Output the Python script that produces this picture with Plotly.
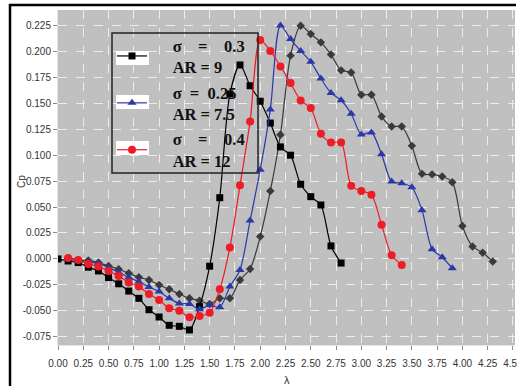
import plotly.graph_objects as go

# ---- data ----
lam_a = [0.0, 0.1, 0.2, 0.3, 0.4, 0.5, 0.6, 0.7, 0.8, 0.9, 1.0, 1.1, 1.2, 1.3, 1.4,
         1.5, 1.6, 1.7, 1.8, 1.9, 2.0, 2.1, 2.2, 2.3, 2.4, 2.5, 2.6, 2.7, 2.8]
cp_a = [0.000, -0.002, -0.0035, -0.008, -0.0116, -0.018, -0.024, -0.031, -0.038, -0.049,
        -0.056, -0.064, -0.065, -0.0685, -0.046, -0.007, 0.059, 0.159, 0.187, 0.167,
        0.152, 0.131, 0.108, 0.100, 0.072, 0.060, 0.052, 0.0125, -0.004]

lam_b = [0.1, 0.2, 0.3, 0.4, 0.5, 0.6, 0.7, 0.8, 0.9, 1.0, 1.1, 1.2, 1.3, 1.4, 1.5,
         1.6, 1.7, 1.8, 1.9, 2.0, 2.1, 2.2, 2.3, 2.4, 2.5, 2.6, 2.7, 2.8, 2.9, 3.0,
         3.1, 3.2, 3.3, 3.4, 3.5, 3.6, 3.7, 3.8, 3.9]
cp_b = [0.000, -0.002, -0.0035, -0.004, -0.0084, -0.013, -0.018, -0.022, -0.027, -0.0315,
        -0.038, -0.043, -0.0434, -0.0486, -0.0444, -0.0467, -0.0267, -0.0106, 0.037, 0.086,
        0.144, 0.225, 0.212, 0.2005, 0.190, 0.174, 0.160, 0.153, 0.140, 0.120,
        0.122, 0.101, 0.0746, 0.073, 0.069, 0.047, 0.0094, 0.0016, -0.009]

lam_c = [0.1, 0.2, 0.3, 0.4, 0.5, 0.6, 0.7, 0.8, 0.9, 1.0, 1.1, 1.2, 1.3, 1.4, 1.5,
         1.6, 1.7, 1.8, 1.9, 2.0, 2.1, 2.2, 2.3, 2.4, 2.5, 2.6, 2.7, 2.8, 2.9, 3.0,
         3.1, 3.2, 3.3, 3.4]
cp_c = [0.001, -0.001, -0.005, -0.0074, -0.0116, -0.0164, -0.0228, -0.0267, -0.0338, -0.0396,
        -0.0476, -0.0499, -0.0563, -0.055, -0.0518, -0.0293, 0.011, 0.071, 0.1326, 0.211,
        0.2005, 0.1856, 0.1696, 0.1528, 0.1454, 0.1207, 0.1123, 0.1123, 0.0705, 0.0656,
        0.0618, 0.033, 0.0035, -0.0058]

lam_d = [0.1, 0.2, 0.3, 0.4, 0.5, 0.6, 0.7, 0.8, 0.9, 1.0, 1.1, 1.2, 1.3, 1.4, 1.5,
         1.6, 1.7, 1.8, 1.9, 2.0, 2.1, 2.2, 2.3, 2.4, 2.5, 2.6, 2.7, 2.8, 2.9, 3.0,
         3.1, 3.2, 3.3, 3.4, 3.5, 3.6, 3.7, 3.8, 3.9, 4.0, 4.1, 4.2, 4.3]
cp_d = [0.001, -0.001, -0.0016, -0.0035, -0.0068, -0.010, -0.0138, -0.0177, -0.0203, -0.0251,
        -0.0293, -0.0338, -0.038, -0.0402, -0.0434, -0.038, -0.038, -0.0203, -0.0097, 0.0215,
        0.0655, 0.1197, 0.196, 0.2249, 0.2168, 0.2088, 0.197, 0.1818, 0.1798, 0.1583,
        0.1583, 0.1374, 0.1277, 0.1277, 0.109, 0.082, 0.0815, 0.0795, 0.074, 0.0318,
        0.012, 0.006, -0.0024]

NB = "\u00a0"
PAD = NB * 5
names = [PAD + "σ" + NB * 4 + "=" + NB * 4 + "0.3<br>" + PAD + "AR = 9",
         PAD + "σ" + NB * 2 + "=" + NB * 2 + "0.25<br>" + PAD + "AR = 7.5",
         PAD + "σ" + NB * 4 + "=" + NB * 4 + "0.4<br>" + PAD + "AR = 12"]

x_ticks = [0.0, 0.25, 0.5, 0.75, 1.0, 1.25, 1.5, 1.75, 2.0, 2.25, 2.5, 2.75, 3.0,
           3.25, 3.5, 3.75, 4.0, 4.25, 4.5]
x_ticktext = ["0.00", "0.25", "0.50", "0.75", "1.00", "1.25", "1.50", "1.75", "2.00",
              "2.25", "2.50", "2.75", "3.00", "3.25", "3.50", "3.75", "4.00", "4.25", "4.50"]
y_ticks = [-0.075, -0.05, -0.025, 0.0, 0.025, 0.05, 0.075, 0.1, 0.125, 0.15, 0.175, 0.2, 0.225]
y_ticktext = ["-0.075", "-0.050", "-0.025", "0.000", "0.025", "0.050", "0.075", "0.100",
              "0.125", "0.150", "0.175", "0.200", "0.225"]

# ---- figure ----
fig = go.Figure()
line_kw = dict(shape="spline", smoothing=0.8, width=1.2)

fig.add_trace(go.Scatter(x=lam_d, y=cp_d, mode="lines+markers", showlegend=False,
                         line=dict(color="#3a3a3a", **line_kw),
                         marker=dict(symbol="diamond", size=6.5, color="#3a3a3a")))
fig.add_trace(go.Scatter(x=lam_a, y=cp_a, mode="lines+markers", name=names[0],
                         legendgroup="a",
                         line=dict(color="#000000", **line_kw),
                         marker=dict(symbol="square", size=7, color="#000000")))
fig.add_trace(go.Scatter(x=lam_b, y=cp_b, mode="lines+markers", name=names[1],
                         legendgroup="b",
                         line=dict(color="#2b38a8", **line_kw),
                         marker=dict(symbol="triangle-up", size=8, color="#2b38a8")))
fig.add_trace(go.Scatter(x=lam_c, y=cp_c, mode="lines+markers", name=names[2],
                         legendgroup="c",
                         line=dict(color="#ee1c24", **line_kw),
                         marker=dict(symbol="circle", size=8, color="#ee1c24")))

W, H = 517, 387
L, R, T, B = 58, 2, 10, 42
pw, ph = W - L - R, H - T - B


def px(xp):
    return (xp - L) / pw


def py(yp):
    return (H - B - yp) / ph


tick_font = dict(family="Liberation Sans Narrow, Arial Narrow, Liberation Sans, Arial",
                 size=10, color="#333333")

shapes = [
    # outer frame of the figure (left and top edges), kept inside the page
    dict(type="line", xref="paper", yref="paper", x0=px(10), x1=px(10),
         y0=py(386), y1=py(4), line=dict(color="black", width=2.5), layer="above"),
    dict(type="line", xref="paper", yref="paper", x0=px(9), x1=px(516),
         y0=py(5), y1=py(5), line=dict(color="black", width=2.5), layer="above"),
    # legend frame
    dict(type="rect", xref="paper", yref="paper", x0=px(112), x1=px(258),
         y0=py(173), y1=py(33), line=dict(color="#222222", width=1.5),
         fillcolor="rgba(0,0,0,0)", layer="above"),
]
# white boxes behind the legend symbols
for yc in (58, 102, 148):
    shapes.append(dict(type="rect", xref="paper", yref="paper", x0=px(116), x1=px(149),
                       y0=py(yc + 7), y1=py(yc - 7), line=dict(width=0),
                       fillcolor="white", layer="above"))

fig.update_layout(
    width=W, height=H,
    margin=dict(l=L, r=R, t=T, b=B, pad=0),
    paper_bgcolor="white",
    plot_bgcolor="#c0c0c0",
    xaxis=dict(range=[0, 4.52], tickvals=x_ticks, ticktext=x_ticktext,
               showgrid=True, gridcolor="#ececec", griddash="dash", gridwidth=1,
               zeroline=False, showline=True, linecolor="#e4e4e4", linewidth=1,
               ticks="outside", ticklen=4, tickcolor="#8a8a8a", ticklabelstandoff=5,
               ticklabeloverflow="allow",
               tickfont=tick_font, automargin=False),
    yaxis=dict(range=[-0.083, 0.240], tickvals=y_ticks, ticktext=y_ticktext,
               showgrid=True, gridcolor="#ececec", griddash="dash", gridwidth=1,
               zeroline=False, showline=True, linecolor="#e4e4e4", linewidth=1,
               ticks="outside", ticklen=4, tickcolor="#8a8a8a",
               tickfont=tick_font, automargin=False),
    legend=dict(x=px(112), y=py(28), xanchor="left", yanchor="top",
                bgcolor="rgba(0,0,0,0)", borderwidth=0,
                itemwidth=30, tracegroupgap=1,
                font=dict(family="Liberation Serif, Times New Roman", size=16.5,
                          color="#111111", weight="bold")),
    shapes=shapes,
    annotations=[
        dict(text="Cp", xref="paper", yref="paper", x=px(21), y=py(182),
             showarrow=False, textangle=-90, xanchor="center", yanchor="middle",
             font=dict(family="Liberation Sans", size=10, color="#333333")),
        dict(text="λ", xref="paper", yref="paper", x=px(287), y=py(380),
             showarrow=False, xanchor="center", yanchor="middle",
             font=dict(family="Liberation Sans", size=11, color="#333333")),
    ],
)

fig.write_html(
    "out.html",
    post_script="document.documentElement.style.overflow='hidden';"
                "document.body.style.margin='0';document.body.style.overflow='hidden';",
)
